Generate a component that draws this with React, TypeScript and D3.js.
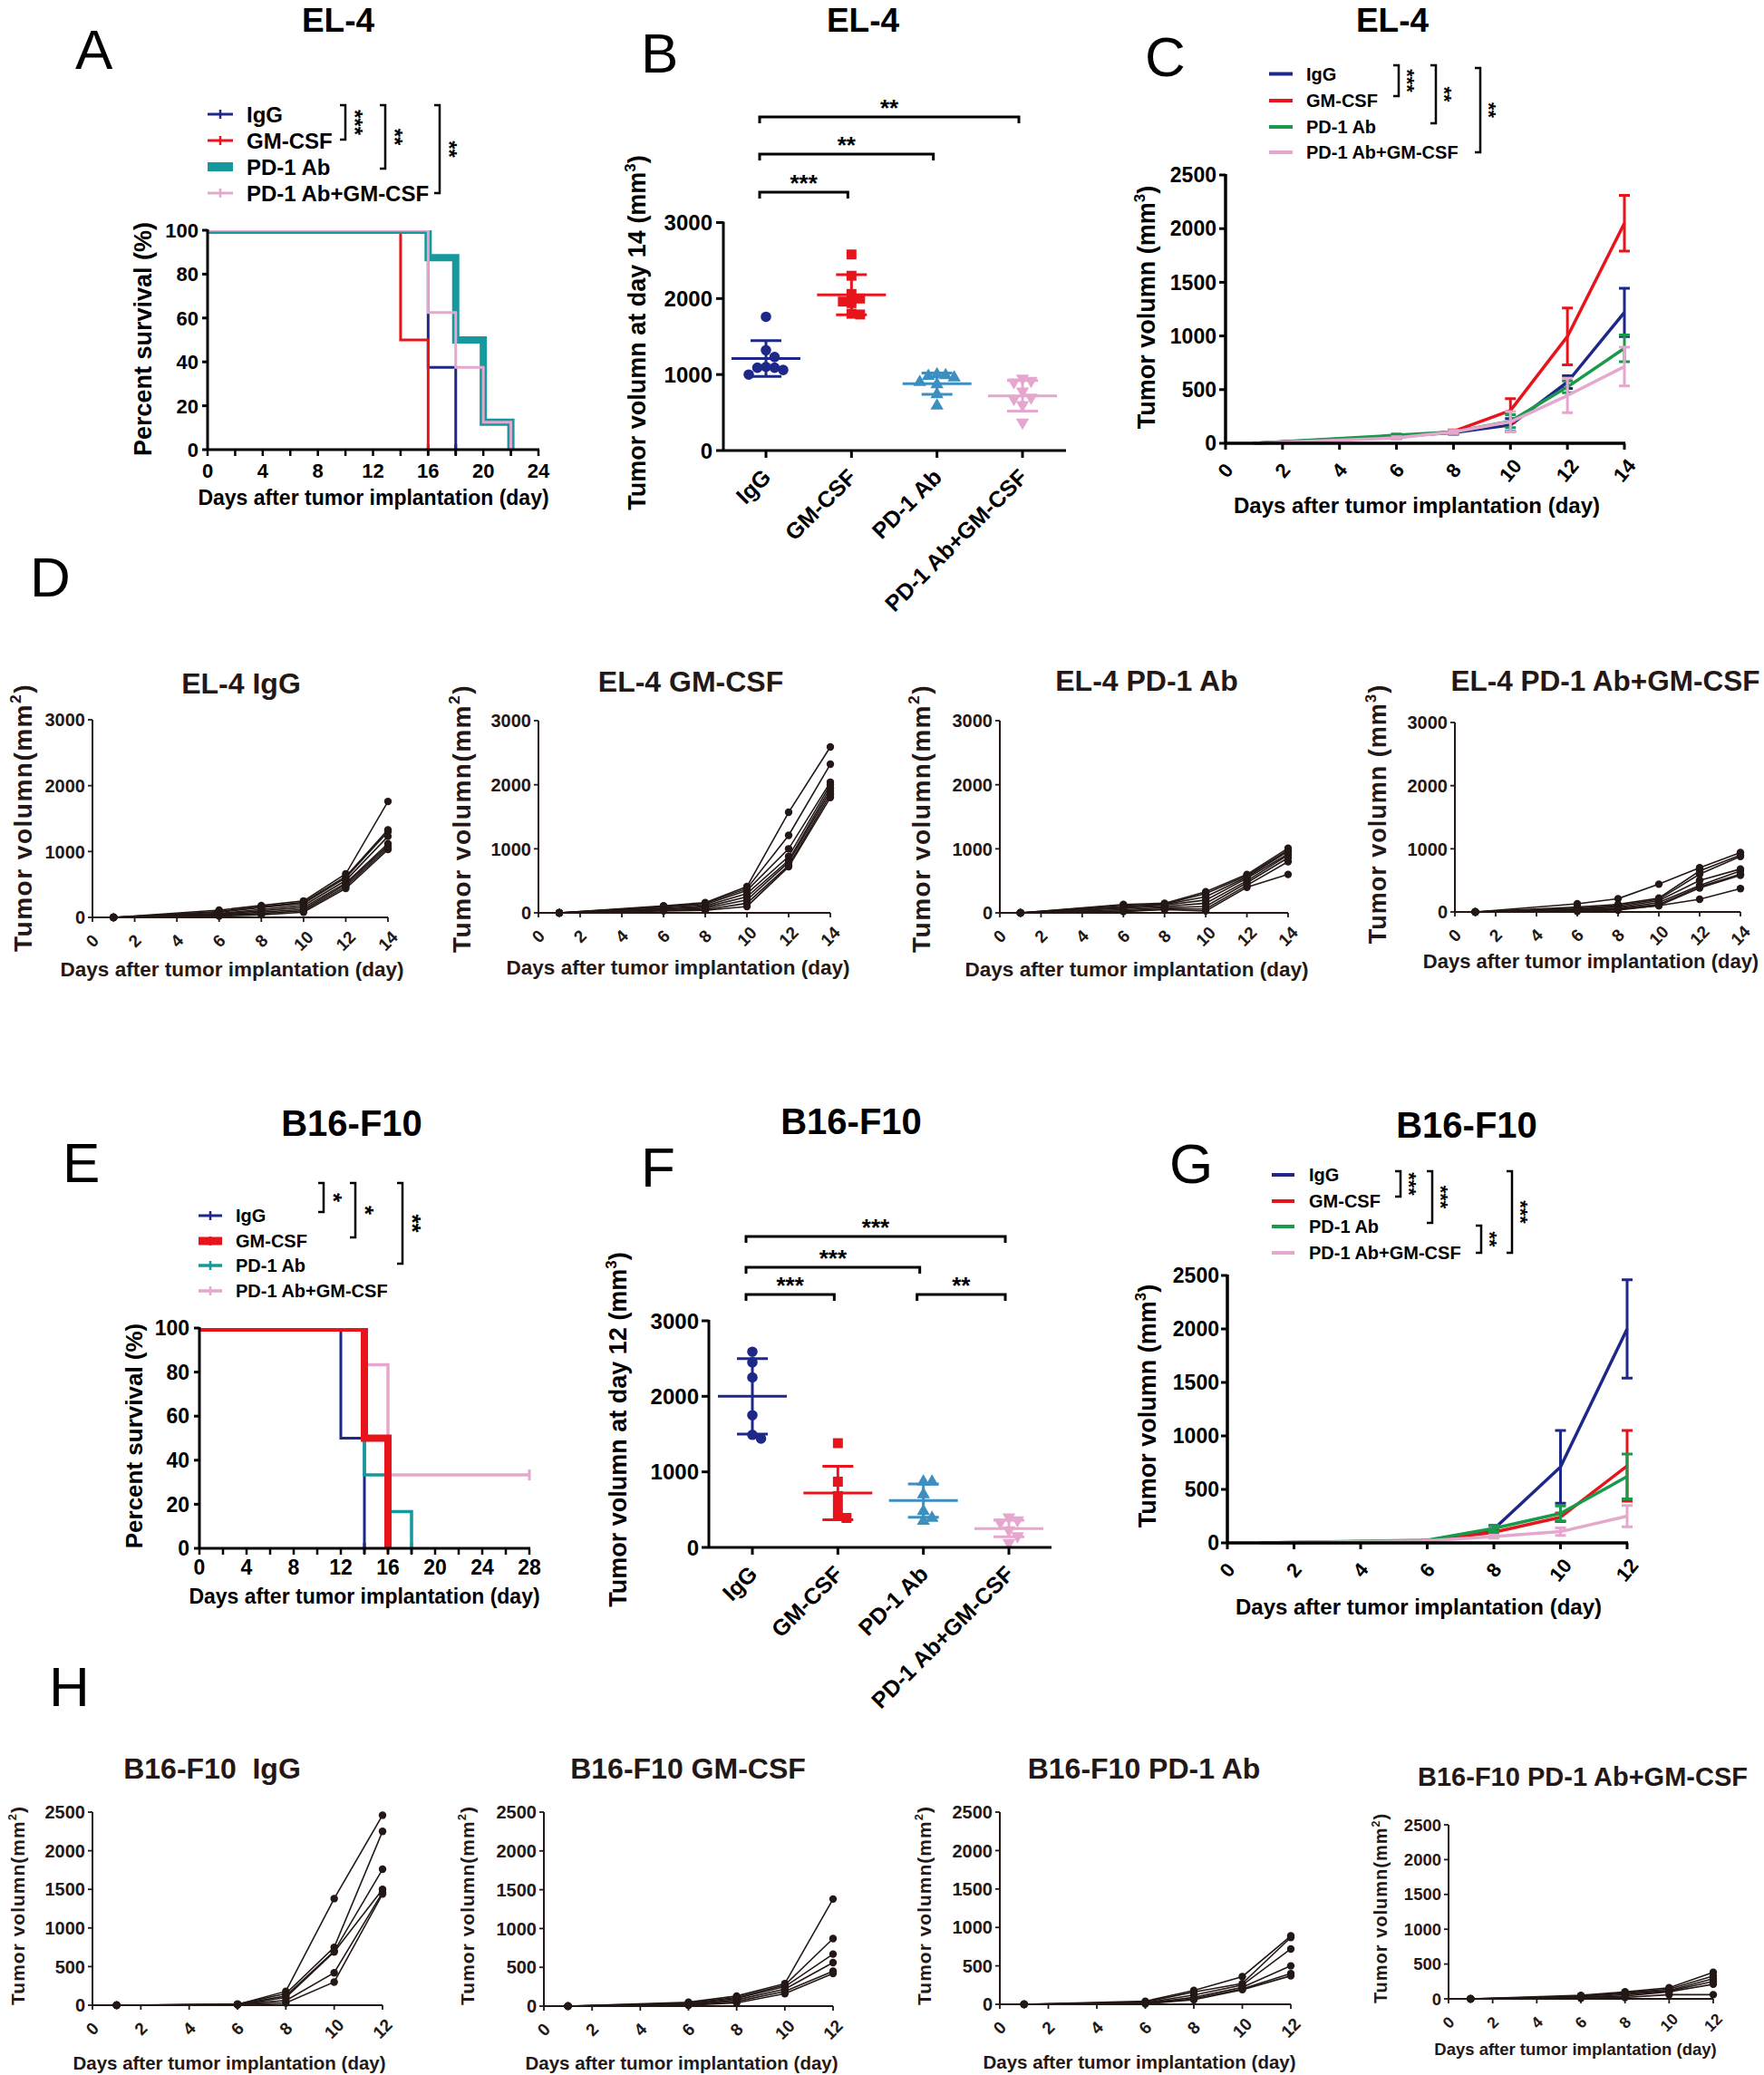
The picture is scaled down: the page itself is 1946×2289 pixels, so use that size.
import React from "react";
import * as d3 from "d3";

const FONT = "'Liberation Sans', Arial, Helvetica, sans-serif";
const BLACK = "#000000";
const INK = "#231815";
const NAVY = "#1d2888";
const RED = "#e8141c";
const TEAL = "#16999c";
const GREEN = "#199a4a";
const PINK = "#e6a7cf";
const STEEL = "#3d8fc0";

const GROUPS = ["IgG", "GM-CSF", "PD-1 Ab", "PD-1 Ab+GM-CSF"];

// ---------- A: EL-4 survival ----------
const A_IgG_days = [0, 16, 18];
const A_IgG_pct = [100, 37.5, 0];
const A_GM_days = [0, 14, 16];
const A_GM_pct = [100, 50, 0];
const A_PD1_days = [0, 16, 18, 20, 22];
const A_PD1_pct = [100, 87.5, 50, 12.5, 0];
const A_Combo_days = [0, 16, 18, 20, 22];
const A_Combo_pct = [100, 62.5, 37.5, 12.5, 0];
const A_xTicks = [0, 2, 4, 6, 8, 10, 12, 14, 16, 18, 20, 22, 24];
const A_xLabels = [0, 4, 8, 12, 16, 20, 24];
const SURV_yTicks = [0, 20, 40, 60, 80, 100];

// ---------- B: EL-4 day 14 ----------
const B_IgG = [1760, 1320, 1230, 1100, 1090, 1090, 1060, 1000];
const B_GM = [2580, 2300, 2060, 2000, 1960, 1940, 1800, 1790];
const B_PD1 = [1000, 990, 980, 960, 900, 870, 740, 590];
const B_Combo = [950, 920, 900, 780, 700, 680, 600, 370];
const B_mean = [1210, 2050, 880, 720];
const B_sd = [235, 265, 140, 200];
const BF_yTicks = [0, 1000, 2000, 3000];

// ---------- C: EL-4 growth ----------
const C_days = [1, 6, 8, 10, 12, 14];
const C_IgG_mean = [0, 65, 100, 170, 570, 1220];
const C_IgG_sem = [0, 12, 15, 60, 60, 225];
const C_GM_mean = [0, 55, 110, 305, 995, 2050];
const C_GM_sem = [0, 12, 15, 110, 265, 260];
const C_PD1_mean = [0, 75, 105, 205, 525, 885];
const C_PD1_sem = [0, 12, 15, 60, 55, 125];
const C_Combo_mean = [0, 50, 105, 200, 445, 715];
const C_Combo_sem = [0, 12, 15, 95, 160, 180];
const CG_yTicks = [0, 500, 1000, 1500, 2000, 2500];
const C_xTicks = [0, 2, 4, 6, 8, 10, 12, 14];

// ---------- D: EL-4 individual mice ----------
const D_days = [1, 6, 8, 10, 12, 14];
const D_IgG = [
  [0, 110, 180, 250, 660, 1760],
  [0, 90, 160, 230, 620, 1330],
  [0, 80, 150, 210, 600, 1300],
  [0, 60, 120, 180, 560, 1230],
  [0, 50, 100, 150, 520, 1120],
  [0, 40, 80, 120, 500, 1090],
  [0, 30, 60, 100, 470, 1060],
  [0, 20, 40, 80, 440, 1030],
];
const D_GM = [
  [0, 110, 160, 410, 1570, 2590],
  [0, 100, 150, 380, 1210, 2320],
  [0, 90, 130, 350, 1000, 2040],
  [0, 70, 110, 300, 880, 2000],
  [0, 60, 90, 250, 820, 1950],
  [0, 50, 70, 200, 790, 1900],
  [0, 40, 50, 150, 740, 1850],
  [0, 30, 40, 100, 720, 1800],
];
const D_PD1 = [
  [0, 130, 150, 330, 600, 1010],
  [0, 120, 140, 300, 580, 980],
  [0, 100, 130, 250, 560, 960],
  [0, 90, 120, 200, 540, 920],
  [0, 70, 100, 150, 500, 900],
  [0, 50, 80, 100, 470, 860],
  [0, 30, 60, 60, 430, 800],
  [0, 20, 50, 30, 400, 600],
];
const D_Combo = [
  [0, 130, 210, 440, 700, 940],
  [0, 80, 120, 220, 650, 900],
  [0, 60, 100, 200, 600, 880],
  [0, 50, 80, 180, 500, 680],
  [0, 40, 60, 150, 420, 650],
  [0, 30, 50, 120, 400, 600],
  [0, 20, 40, 100, 380, 580],
  [0, 10, 30, 100, 200, 370],
];
const D_xTicks = [0, 2, 4, 6, 8, 10, 12, 14];
const D_yTicks = [0, 1000, 2000, 3000];

// ---------- E: B16-F10 survival ----------
const E_IgG_days = [0, 12, 14];
const E_IgG_pct = [100, 50, 0];
const E_GM_days = [0, 14, 16];
const E_GM_pct = [100, 50, 0];
const E_PD1_days = [0, 14, 16, 18];
const E_PD1_pct = [100, 33.3, 16.7, 0];
const E_Combo_days = [0, 14, 16, 28];
const E_Combo_pct = [100, 83.3, 33.3, 33.3];
const E_xTicks = [0, 2, 4, 6, 8, 10, 12, 14, 16, 18, 20, 22, 24, 26, 28];
const E_xLabels = [0, 4, 8, 12, 16, 20, 24, 28];

// ---------- F: B16-F10 day 12 ----------
const F_IgG = [2590, 2450, 2250, 1750, 1490, 1440];
const F_GM = [1380, 870, 680, 560, 440, 390];
const F_PD1 = [870, 870, 700, 480, 390, 350];
const F_Combo = [400, 360, 330, 230, 150, 60];
const F_mean = [2000, 720, 620, 250];
const F_sd = [500, 355, 220, 110];

// ---------- G: B16-F10 growth ----------
const G_days = [1, 6, 8, 10, 12];
const G_IgG_mean = [0, 10, 130, 710, 2000];
const G_IgG_sem = [0, 5, 30, 340, 460];
const G_GM_mean = [0, 20, 100, 240, 720];
const G_GM_sem = [0, 5, 20, 40, 330];
const G_PD1_mean = [0, 25, 135, 275, 620];
const G_PD1_sem = [0, 5, 30, 70, 210];
const G_Combo_mean = [0, 20, 60, 105, 250];
const G_Combo_sem = [0, 5, 15, 35, 100];
const G_xTicks = [0, 2, 4, 6, 8, 10, 12];

// ---------- H: B16-F10 individual mice ----------
const H_days = [1, 6, 8, 10, 12];
const H_IgG = [
  [0, 10, 180, 1380, 2460],
  [0, 15, 150, 750, 2250],
  [0, 10, 120, 700, 1760],
  [0, 5, 100, 690, 1500],
  [0, 10, 60, 420, 1460],
  [0, 5, 30, 300, 1440],
];
const H_GM = [
  [0, 50, 130, 290, 1380],
  [0, 40, 110, 270, 870],
  [0, 30, 100, 250, 670],
  [0, 20, 80, 220, 560],
  [0, 15, 60, 190, 450],
  [0, 10, 40, 160, 420],
];
const H_PD1 = [
  [0, 40, 180, 360, 890],
  [0, 30, 160, 270, 870],
  [0, 20, 120, 250, 720],
  [0, 15, 90, 220, 500],
  [0, 10, 70, 200, 400],
  [0, 5, 60, 190, 370],
];
const H_Combo = [
  [0, 50, 100, 160, 380],
  [0, 40, 90, 140, 330],
  [0, 30, 80, 120, 290],
  [0, 20, 60, 110, 250],
  [0, 20, 40, 100, 210],
  [0, 10, 20, 60, 60],
];
const H_xTicks = [0, 2, 4, 6, 8, 10, 12];
const H_yTicks = [0, 500, 1000, 1500, 2000, 2500];

// ================= helpers =================
function UnitText({ x, y, fs, main, sup, tail, rotate = -90, ls = 0, fill = BLACK }) {
  return (
    <text
      transform={`translate(${x},${y}) rotate(${rotate})`}
      textAnchor="middle"
      fontSize={fs}
      fontFamily={FONT}
      fontWeight="bold"
      letterSpacing={ls}
      fill={fill}
    >
      {main}
      <tspan fontSize={fs * 0.62} dy={-fs * 0.42}>{sup}</tspan>
      <tspan dy={fs * 0.42}>{tail}</tspan>
    </text>
  );
}

function Letter({ x, y, ch }) {
  return (
    <text x={x} y={y} fontSize={62} fontFamily={FONT} fill={BLACK}>
      {ch}
    </text>
  );
}

function Title({ x, y, fs, text, fill = BLACK }) {
  return (
    <text x={x} y={y} fontSize={fs} fontFamily={FONT} fontWeight="bold" textAnchor="middle" fill={fill}>
      {text}
    </text>
  );
}

function VBracket({ x, y1, y2, label, fs }) {
  return (
    <g>
      <path d={`M${x - 6},${y1}H${x}V${y2}H${x - 6}`} fill="none" stroke={BLACK} strokeWidth={2.5} />
      <text
        transform={`translate(${x + 2},${(y1 + y2) / 2}) rotate(90)`}
        textAnchor="middle"
        fontSize={fs}
        fontFamily={FONT}
        fontWeight="bold"
      >
        {label}
      </text>
    </g>
  );
}

// ================= Survival =================
function Survival({ c }) {
  const x = d3.scaleLinear().domain([0, c.xMax]).range([c.x0, c.x1]);
  const y = d3.scaleLinear().domain([0, 100]).range([c.yB, c.yT]);
  const line = d3
    .line()
    .x((d) => x(d[0]))
    .y((d) => y(d[1]))
    .curve(d3.curveStepAfter);
  const clip = `clip-${c.id}`;
  return (
    <g fontFamily={FONT} fontWeight="bold" fill={BLACK}>
      <defs>
        <clipPath id={clip}>
          <rect x={c.x0 - 10} y={c.yT} width={c.x1 - c.x0 + 20} height={c.yB - c.yT + 12} />
        </clipPath>
      </defs>
      <g clipPath={`url(#${clip})`}>
        {c.order.map((i) => {
          const s = c.series[i];
          const pts = s.days.map((d, j) => [d, s.pct[j]]);
          const last = pts[pts.length - 1];
          return (
            <g key={i}>
              <path d={line(pts)} fill="none" stroke={s.color} strokeWidth={s.width} />
              <line
                x1={x(last[0])}
                x2={x(last[0])}
                y1={y(last[1]) - 6}
                y2={y(last[1]) + 6}
                stroke={s.color}
                strokeWidth={3}
              />
            </g>
          );
        })}
      </g>
      <line x1={c.x0} x2={c.x0} y1={c.yT - 1} y2={c.yB} stroke={BLACK} strokeWidth={3} />
      <line x1={c.x0} x2={c.x1 + 1} y1={c.yB} y2={c.yB} stroke={BLACK} strokeWidth={3} />
      {SURV_yTicks.map((t) => (
        <g key={t}>
          <line x1={c.x0 - 6} x2={c.x0} y1={y(t)} y2={y(t)} stroke={BLACK} strokeWidth={3} />
          <text x={c.yLabX} y={y(t)} dy="0.36em" textAnchor="end" fontSize={c.tickFs}>
            {t}
          </text>
        </g>
      ))}
      {c.xTicks.map((t) => (
        <line key={t} x1={x(t)} x2={x(t)} y1={c.yB} y2={c.yB + 7} stroke={BLACK} strokeWidth={2.5} />
      ))}
      {c.xLabels.map((t) => (
        <text key={t} x={x(t)} y={c.xLabY} textAnchor="middle" fontSize={c.tickFs}>
          {t}
        </text>
      ))}
      <text x={c.xt.x} y={c.xt.y} textAnchor="middle" fontSize={c.xt.fs}>
        Days after tumor implantation (day)
      </text>
      <text transform={`translate(${c.yt.x},${c.yt.y}) rotate(-90)`} textAnchor="middle" fontSize={c.yt.fs}>
        Percent survival (%)
      </text>
      {c.series.map((s, i) => {
        const ly = c.legend.rows[i];
        return (
          <g key={i}>
            <line x1={c.legend.x0} x2={c.legend.x1} y1={ly} y2={ly} stroke={s.color} strokeWidth={s.legendW} />
            <line
              x1={(c.legend.x0 + c.legend.x1) / 2}
              x2={(c.legend.x0 + c.legend.x1) / 2}
              y1={ly - 5}
              y2={ly + 5}
              stroke={s.color}
              strokeWidth={2.5}
            />
            <text x={c.legend.tx} y={ly} dy="0.36em" fontSize={c.legend.fs}>
              {GROUPS[i]}
            </text>
          </g>
        );
      })}
      {c.brackets.map((b, i) => (
        <VBracket key={i} {...b} fs={c.bracketFs} />
      ))}
    </g>
  );
}

// ================= Scatter (dot plot) =================
function swarm(vals, y, step) {
  const placed = [];
  const sorted = [...vals].sort((a, b) => b - a);
  const cands = [0];
  for (let k = 1; k < 10; k++) cands.push(k * step, -k * step);
  for (const v of sorted) {
    const py = y(v);
    let dx = 0;
    for (const cnd of cands) {
      if (placed.every((p) => Math.hypot(p.dx - cnd, p.py - py) >= step * 0.999)) {
        dx = cnd;
        break;
      }
    }
    placed.push({ dx, py });
  }
  return placed;
}

function Scatter({ c }) {
  const x = d3.scalePoint().domain(GROUPS).range([c.cx0, c.cx1]);
  const y = d3.scaleLinear().domain([0, 3000]).range([c.yB, c.yT]);
  return (
    <g fontFamily={FONT} fontWeight="bold" fill={BLACK}>
      {c.groups.map((g, gi) => {
        const cx = x(GROUPS[gi]);
        const pts = swarm(g.values, y, 9.5);
        const sym = d3.symbol().type(g.shape).size(g.size);
        const m = c.mean[gi];
        const s = c.sd[gi];
        return (
          <g key={gi}>
            {pts.map((p, k) => (
              <path
                key={k}
                d={sym()}
                transform={`translate(${cx + p.dx},${p.py})${g.flip ? " rotate(180)" : ""}`}
                fill={g.color}
              />
            ))}
            <line x1={cx - 38} x2={cx + 38} y1={y(m)} y2={y(m)} stroke={g.color} strokeWidth={3} />
            <line x1={cx} x2={cx} y1={y(m - s)} y2={y(m + s)} stroke={g.color} strokeWidth={3} />
            <line x1={cx - 17} x2={cx + 17} y1={y(m + s)} y2={y(m + s)} stroke={g.color} strokeWidth={3} />
            <line x1={cx - 17} x2={cx + 17} y1={y(m - s)} y2={y(m - s)} stroke={g.color} strokeWidth={3} />
          </g>
        );
      })}
      <line x1={c.ax} x2={c.ax} y1={c.yT - 1} y2={c.yB} stroke={BLACK} strokeWidth={3} />
      <line x1={c.ax} x2={c.axEnd} y1={c.yB} y2={c.yB} stroke={BLACK} strokeWidth={3} />
      {BF_yTicks.map((t) => (
        <g key={t}>
          <line x1={c.ax - 8} x2={c.ax} y1={y(t)} y2={y(t)} stroke={BLACK} strokeWidth={3} />
          <text x={c.yLabX} y={y(t)} dy="0.36em" textAnchor="end" fontSize={24}>
            {t}
          </text>
        </g>
      ))}
      {GROUPS.map((g) => (
        <g key={g}>
          <line x1={x(g)} x2={x(g)} y1={c.yB} y2={c.yB + 8} stroke={BLACK} strokeWidth={3} />
          <text
            transform={`translate(${x(g) + 7},${c.yB + 31}) rotate(-45)`}
            textAnchor="end"
            fontSize={25}
          >
            {g}
          </text>
        </g>
      ))}
      <UnitText x={c.yt.x} y={c.yt.y} fs={27} main={c.yt.main} sup="3" tail=")" />
      {c.sig.map((b, i) => {
        const xa = x(GROUPS[b.a]) - 7;
        const xb = x(GROUPS[b.b]) - 4;
        return (
          <g key={i}>
            <path d={`M${xa},${b.y + 7}V${b.y}H${xb}V${b.y + 7}`} fill="none" stroke={BLACK} strokeWidth={3} />
            <text x={(xa + xb) / 2} y={b.y - 1} textAnchor="middle" fontSize={26}>
              {b.label}
            </text>
          </g>
        );
      })}
    </g>
  );
}

// ================= Growth (mean ± SEM) =================
function Growth({ c }) {
  const x = d3.scaleLinear().domain([0, c.xMax]).range([c.x0, c.x1]);
  const y = d3.scaleLinear().domain([0, 2500]).range([c.yB, c.yT]);
  const line = d3
    .line()
    .x((d) => x(d[0]))
    .y((d) => y(d[1]));
  return (
    <g fontFamily={FONT} fontWeight="bold" fill={BLACK}>
      {c.series.map((s, si) => (
        <g key={si}>
          <path
            d={line(c.days.map((d, i) => [d, s.mean[i]]))}
            fill="none"
            stroke={s.color}
            strokeWidth={3.5}
            strokeLinejoin="round"
          />
          {c.days.map((d, i) => {
            if (s.sem[i] <= 0) return null;
            const xs = x(d);
            const yt = y(s.mean[i] + s.sem[i]);
            const yb = y(Math.max(0, s.mean[i] - s.sem[i]));
            return (
              <path
                key={i}
                d={`M${xs - 6},${yt}H${xs + 6}M${xs},${yt}V${yb}M${xs - 6},${yb}H${xs + 6}`}
                fill="none"
                stroke={s.color}
                strokeWidth={3}
              />
            );
          })}
        </g>
      ))}
      <line x1={c.x0} x2={c.x0} y1={c.yT - 1} y2={c.yB} stroke={BLACK} strokeWidth={3.5} />
      <line x1={c.x0} x2={c.x1 + 1} y1={c.yB} y2={c.yB} stroke={BLACK} strokeWidth={3.5} />
      {CG_yTicks.map((t) => (
        <g key={t}>
          <line x1={c.x0 - 7} x2={c.x0} y1={y(t)} y2={y(t)} stroke={BLACK} strokeWidth={3} />
          <text x={c.yLabX} y={y(t)} dy="0.36em" textAnchor="end" fontSize={23}>
            {t}
          </text>
        </g>
      ))}
      {c.xTicks.map((t) => (
        <g key={t}>
          <line x1={x(t)} x2={x(t)} y1={c.yB} y2={c.yB + 7} stroke={BLACK} strokeWidth={3} />
          <text
            transform={`translate(${x(t)},${c.yB + 30}) rotate(-50)`}
            textAnchor="middle"
            dominantBaseline="central"
            fontSize={22}
          >
            {t}
          </text>
        </g>
      ))}
      <text x={c.xt.x} y={c.xt.y} textAnchor="middle" fontSize={24}>
        Days after tumor implantation (day)
      </text>
      <UnitText x={c.yt.x} y={c.yt.y} fs={27} main="Tumor volumn (mm" sup="3" tail=")" />
      {c.series.map((s, i) => {
        const ly = c.legend.rows[i];
        return (
          <g key={i}>
            <line x1={c.legend.x0} x2={c.legend.x1} y1={ly} y2={ly} stroke={s.color} strokeWidth={4} />
            <text x={c.legend.tx} y={ly} dy="0.36em" fontSize={20}>
              {GROUPS[i]}
            </text>
          </g>
        );
      })}
      {c.brackets.map((b, i) => (
        <VBracket key={i} {...b} fs={22} />
      ))}
    </g>
  );
}

// ================= Individual mice =================
function Mice({ c }) {
  const x = d3.scaleLinear().domain([0, c.xMax]).range([c.x0, c.x1]);
  const y = d3.scaleLinear().domain([0, c.yMax]).range([c.yB, c.yT]);
  const line = d3
    .line()
    .x((d) => x(d[0]))
    .y((d) => y(d[1]));
  return (
    <g fontFamily={FONT} fontWeight="bold" fill={INK}>
      {c.mice.map((m, mi) => (
        <g key={mi}>
          <path d={line(c.days.map((d, i) => [d, m[i]]))} fill="none" stroke={INK} strokeWidth={1.6} />
          {c.days.map((d, i) => (
            <circle key={i} cx={x(d)} cy={y(m[i])} r={4.2} fill={INK} />
          ))}
        </g>
      ))}
      <line x1={c.x0} x2={c.x0} y1={c.yT} y2={c.yB} stroke={INK} strokeWidth={2} />
      <line x1={c.x0} x2={c.x1} y1={c.yB} y2={c.yB} stroke={INK} strokeWidth={2} />
      {c.yTicks.map((t) => (
        <g key={t}>
          <line x1={c.x0 - 5} x2={c.x0} y1={y(t)} y2={y(t)} stroke={INK} strokeWidth={1.8} />
          <text x={c.x0 - 8} y={y(t)} dy="0.36em" textAnchor="end" fontSize={c.tickFs}>
            {t}
          </text>
        </g>
      ))}
      {c.xTicks.map((t) => (
        <g key={t}>
          <line x1={x(t)} x2={x(t)} y1={c.yB} y2={c.yB + 5} stroke={INK} strokeWidth={1.8} />
          <text
            transform={`translate(${x(t)},${c.yB + 26}) rotate(-45)`}
            textAnchor="middle"
            dominantBaseline="central"
            fontSize={c.tickFs - 1}
          >
            {t}
          </text>
        </g>
      ))}
      <Title x={c.title.x} y={c.title.y} fs={c.title.fs} text={c.title.text} fill={INK} />
      <text x={c.xt.x} y={c.xt.y} textAnchor="middle" fontSize={c.xt.fs}>
        Days after tumor implantation (day)
      </text>
      <UnitText
        x={c.yt.x}
        y={c.yt.y}
        fs={c.yt.fs}
        ls={c.yt.ls}
        main={c.yt.main}
        sup={c.yt.sup}
        tail=")"
        fill={INK}
      />
    </g>
  );
}

// ================= configs =================
const A_cfg = {
  id: "A",
  x0: 229,
  x1: 594,
  xMax: 24,
  yB: 496,
  yT: 254,
  xTicks: A_xTicks,
  xLabels: A_xLabels,
  tickFs: 22,
  xLabY: 527,
  yLabX: 219,
  xt: { x: 412, y: 557, fs: 23 },
  yt: { x: 167, y: 374, fs: 27 },
  order: [0, 1, 2, 3],
  series: [
    { color: NAVY, width: 3, legendW: 3, days: A_IgG_days, pct: A_IgG_pct },
    { color: RED, width: 3, legendW: 3, days: A_GM_days, pct: A_GM_pct },
    { color: TEAL, width: 8, legendW: 10, days: A_PD1_days, pct: A_PD1_pct },
    { color: PINK, width: 3, legendW: 3, days: A_Combo_days, pct: A_Combo_pct },
  ],
  legend: { x0: 229, x1: 257, tx: 272, rows: [126, 155, 184, 213], fs: 24 },
  bracketFs: 24,
  brackets: [
    { x: 381, y1: 116, y2: 154, label: "***" },
    { x: 425, y1: 116, y2: 186, label: "**" },
    { x: 485, y1: 116, y2: 213, label: "**" },
  ],
};

const E_cfg = {
  id: "E",
  x0: 220,
  x1: 584,
  xMax: 28,
  yB: 1708,
  yT: 1465,
  xTicks: E_xTicks,
  xLabels: E_xLabels,
  tickFs: 23,
  xLabY: 1737,
  yLabX: 209,
  xt: { x: 402, y: 1769, fs: 23 },
  yt: { x: 157, y: 1584, fs: 26 },
  order: [0, 2, 3, 1],
  series: [
    { color: NAVY, width: 3, legendW: 3, days: E_IgG_days, pct: E_IgG_pct },
    { color: RED, width: 8, legendW: 9, days: E_GM_days, pct: E_GM_pct },
    { color: TEAL, width: 3.5, legendW: 3.5, days: E_PD1_days, pct: E_PD1_pct },
    { color: PINK, width: 3.5, legendW: 3.5, days: E_Combo_days, pct: E_Combo_pct },
  ],
  legend: { x0: 219, x1: 245, tx: 260, rows: [1341, 1369, 1396, 1424], fs: 20 },
  bracketFs: 26,
  brackets: [
    { x: 357, y1: 1305, y2: 1337, label: "*" },
    { x: 392, y1: 1305, y2: 1365, label: "*" },
    { x: 444, y1: 1305, y2: 1394, label: "**" },
  ],
};

const B_cfg = {
  ax: 798,
  axEnd: 1176,
  yB: 497,
  yT: 245.5,
  cx0: 845,
  cx1: 1128,
  yLabX: 786,
  mean: B_mean,
  sd: B_sd,
  groups: [
    { values: B_IgG, color: NAVY, shape: d3.symbolCircle, size: 105, flip: false },
    { values: B_GM, color: RED, shape: d3.symbolSquare, size: 120, flip: false },
    { values: B_PD1, color: STEEL, shape: d3.symbolTriangle, size: 90, flip: false },
    { values: B_Combo, color: PINK, shape: d3.symbolTriangle, size: 90, flip: true },
  ],
  yt: { x: 712, y: 367, main: "Tumor volumn at day 14 (mm" },
  sig: [
    { a: 0, b: 1, y: 212, label: "***" },
    { a: 0, b: 2, y: 170, label: "**" },
    { a: 0, b: 3, y: 129, label: "**" },
  ],
};

const F_cfg = {
  ax: 782,
  axEnd: 1160,
  yB: 1707,
  yT: 1457,
  cx0: 830,
  cx1: 1113,
  yLabX: 771,
  mean: F_mean,
  sd: F_sd,
  groups: [
    { values: F_IgG, color: NAVY, shape: d3.symbolCircle, size: 105, flip: false },
    { values: F_GM, color: RED, shape: d3.symbolSquare, size: 120, flip: false },
    { values: F_PD1, color: STEEL, shape: d3.symbolTriangle, size: 90, flip: false },
    { values: F_Combo, color: PINK, shape: d3.symbolTriangle, size: 90, flip: true },
  ],
  yt: { x: 691, y: 1577, main: "Tumor volumn at day 12 (mm" },
  sig: [
    { a: 0, b: 1, y: 1428, label: "***" },
    { a: 0, b: 2, y: 1398, label: "***" },
    { a: 0, b: 3, y: 1364, label: "***" },
    { a: 2, b: 3, y: 1428, label: "**" },
  ],
};

const C_cfg = {
  x0: 1352,
  x1: 1792,
  xMax: 14,
  yB: 489,
  yT: 193,
  yLabX: 1342,
  days: C_days,
  xTicks: C_xTicks,
  xt: { x: 1563, y: 566 },
  yt: { x: 1274, y: 339 },
  series: [
    { color: NAVY, mean: C_IgG_mean, sem: C_IgG_sem },
    { color: RED, mean: C_GM_mean, sem: C_GM_sem },
    { color: GREEN, mean: C_PD1_mean, sem: C_PD1_sem },
    { color: PINK, mean: C_Combo_mean, sem: C_Combo_sem },
  ],
  legend: { x0: 1400, x1: 1426, tx: 1441, rows: [81.5, 111, 140, 168] },
  brackets: [
    { x: 1543, y1: 72, y2: 106, label: "***" },
    { x: 1584, y1: 72, y2: 136, label: "**" },
    { x: 1633, y1: 75, y2: 168, label: "**" },
  ],
};

const G_cfg = {
  x0: 1354,
  x1: 1795,
  xMax: 12,
  yB: 1702,
  yT: 1407,
  yLabX: 1345,
  days: G_days,
  xTicks: G_xTicks,
  xt: { x: 1565, y: 1781 },
  yt: { x: 1275, y: 1551 },
  series: [
    { color: NAVY, mean: G_IgG_mean, sem: G_IgG_sem },
    { color: RED, mean: G_GM_mean, sem: G_GM_sem },
    { color: GREEN, mean: G_PD1_mean, sem: G_PD1_sem },
    { color: PINK, mean: G_Combo_mean, sem: G_Combo_sem },
  ],
  legend: { x0: 1403, x1: 1428, tx: 1444, rows: [1296, 1325, 1353, 1382] },
  brackets: [
    { x: 1545, y1: 1292, y2: 1320, label: "***" },
    { x: 1580, y1: 1292, y2: 1349, label: "***" },
    { x: 1634, y1: 1352, y2: 1382, label: "**" },
    { x: 1668, y1: 1292, y2: 1382, label: "***" },
  ],
};

const dY = (x, y) => ({ x, y, fs: 28, ls: 1.5, main: "Tumor volumn(mm", sup: "2" });
const D_cfgs = [
  {
    x0: 102, x1: 428, yB: 1012, yT: 794, xMax: 14, yMax: 3000, days: D_days, mice: D_IgG,
    xTicks: D_xTicks, yTicks: D_yTicks, tickFs: 20,
    title: { x: 266, y: 765, fs: 32, text: "EL-4 IgG" },
    xt: { x: 256, y: 1077, fs: 22.5 },
    yt: dY(35, 902),
  },
  {
    x0: 594, x1: 916, yB: 1007, yT: 795, xMax: 14, yMax: 3000, days: D_days, mice: D_GM,
    xTicks: D_xTicks, yTicks: D_yTicks, tickFs: 20,
    title: { x: 762, y: 763, fs: 32, text: "EL-4 GM-CSF" },
    xt: { x: 748, y: 1075, fs: 22.5 },
    yt: dY(519, 903),
  },
  {
    x0: 1103, x1: 1421, yB: 1007, yT: 795, xMax: 14, yMax: 3000, days: D_days, mice: D_PD1,
    xTicks: D_xTicks, yTicks: D_yTicks, tickFs: 20,
    title: { x: 1265, y: 762, fs: 32, text: "EL-4 PD-1 Ab" },
    xt: { x: 1254, y: 1077, fs: 22.5 },
    yt: dY(1026, 903),
  },
  {
    x0: 1605, x1: 1920, yB: 1006, yT: 797, xMax: 14, yMax: 3000, days: D_days, mice: D_Combo,
    xTicks: D_xTicks, yTicks: D_yTicks, tickFs: 20,
    title: { x: 1771, y: 762, fs: 31.5, text: "EL-4 PD-1 Ab+GM-CSF" },
    xt: { x: 1755, y: 1068, fs: 22 },
    yt: { x: 1529, y: 898, fs: 27, ls: 1, main: "Tumor volumn (mm", sup: "3" },
  },
];

const hY = (x, y, fs = 21) => ({ x, y, fs, ls: 1, main: "Tumor volumn(mm", sup: "2" });
const H_cfgs = [
  {
    x0: 102, x1: 422, yB: 2212, yT: 1999, xMax: 12, yMax: 2500, days: H_days, mice: H_IgG,
    xTicks: H_xTicks, yTicks: H_yTicks, tickFs: 20,
    title: { x: 234, y: 1962, fs: 32, text: "B16-F10\u00a0\u00a0IgG" },
    xt: { x: 253, y: 2283, fs: 20.5 },
    yt: hY(27, 2102),
  },
  {
    x0: 600, x1: 919, yB: 2213, yT: 1999, xMax: 12, yMax: 2500, days: H_days, mice: H_GM,
    xTicks: H_xTicks, yTicks: H_yTicks, tickFs: 20,
    title: { x: 759, y: 1962, fs: 32, text: "B16-F10 GM-CSF" },
    xt: { x: 752, y: 2283, fs: 20.5 },
    yt: hY(523, 2102),
  },
  {
    x0: 1103, x1: 1424, yB: 2211, yT: 1999, xMax: 12, yMax: 2500, days: H_days, mice: H_PD1,
    xTicks: H_xTicks, yTicks: H_yTicks, tickFs: 20,
    title: { x: 1262, y: 1962, fs: 32, text: "B16-F10 PD-1 Ab" },
    xt: { x: 1257, y: 2282, fs: 20.5 },
    yt: hY(1027, 2102),
  },
  {
    x0: 1598, x1: 1890, yB: 2205, yT: 2013, xMax: 12, yMax: 2500, days: H_days, mice: H_Combo,
    xTicks: H_xTicks, yTicks: H_yTicks, tickFs: 18.5,
    title: { x: 1746, y: 1970, fs: 29, text: "B16-F10 PD-1 Ab+GM-CSF" },
    xt: { x: 1738, y: 2267, fs: 18.5 },
    yt: hY(1530, 2105, 20),
  },
];

export default function App() {
  return (
    <svg
      width={1946}
      height={2289}
      viewBox="0 0 1946 2289"
      style={{ position: "absolute", left: 0, top: 0, display: "block" }}
      xmlns="http://www.w3.org/2000/svg"
    >
      <rect x={0} y={0} width={1946} height={2289} fill="#ffffff" />
      {/* Row 1 */}
      <Letter x={83} y={76} ch="A" />
      <Title x={373} y={35} fs={37} text="EL-4" />
      <Survival c={A_cfg} />

      <Letter x={707} y={80} ch="B" />
      <Title x={952} y={35} fs={37} text="EL-4" />
      <Scatter c={B_cfg} />

      <Letter x={1263} y={84} ch="C" />
      <Title x={1536} y={35} fs={37} text="EL-4" />
      <Growth c={C_cfg} />

      {/* Row D */}
      <Letter x={33} y={658} ch="D" />
      {D_cfgs.map((c, i) => (
        <Mice key={i} c={c} />
      ))}

      {/* Row 2 */}
      <Letter x={69} y={1304} ch="E" />
      <Title x={388} y={1253} fs={40} text="B16-F10" />
      <Survival c={E_cfg} />

      <Letter x={707} y={1309} ch="F" />
      <Title x={939} y={1251} fs={40} text="B16-F10" />
      <Scatter c={F_cfg} />

      <Letter x={1290} y={1305} ch="G" />
      <Title x={1618} y={1255} fs={40} text="B16-F10" />
      <Growth c={G_cfg} />

      {/* Row H */}
      <Letter x={54} y={1882} ch="H" />
      {H_cfgs.map((c, i) => (
        <Mice key={i} c={c} />
      ))}
    </svg>
  );
}
